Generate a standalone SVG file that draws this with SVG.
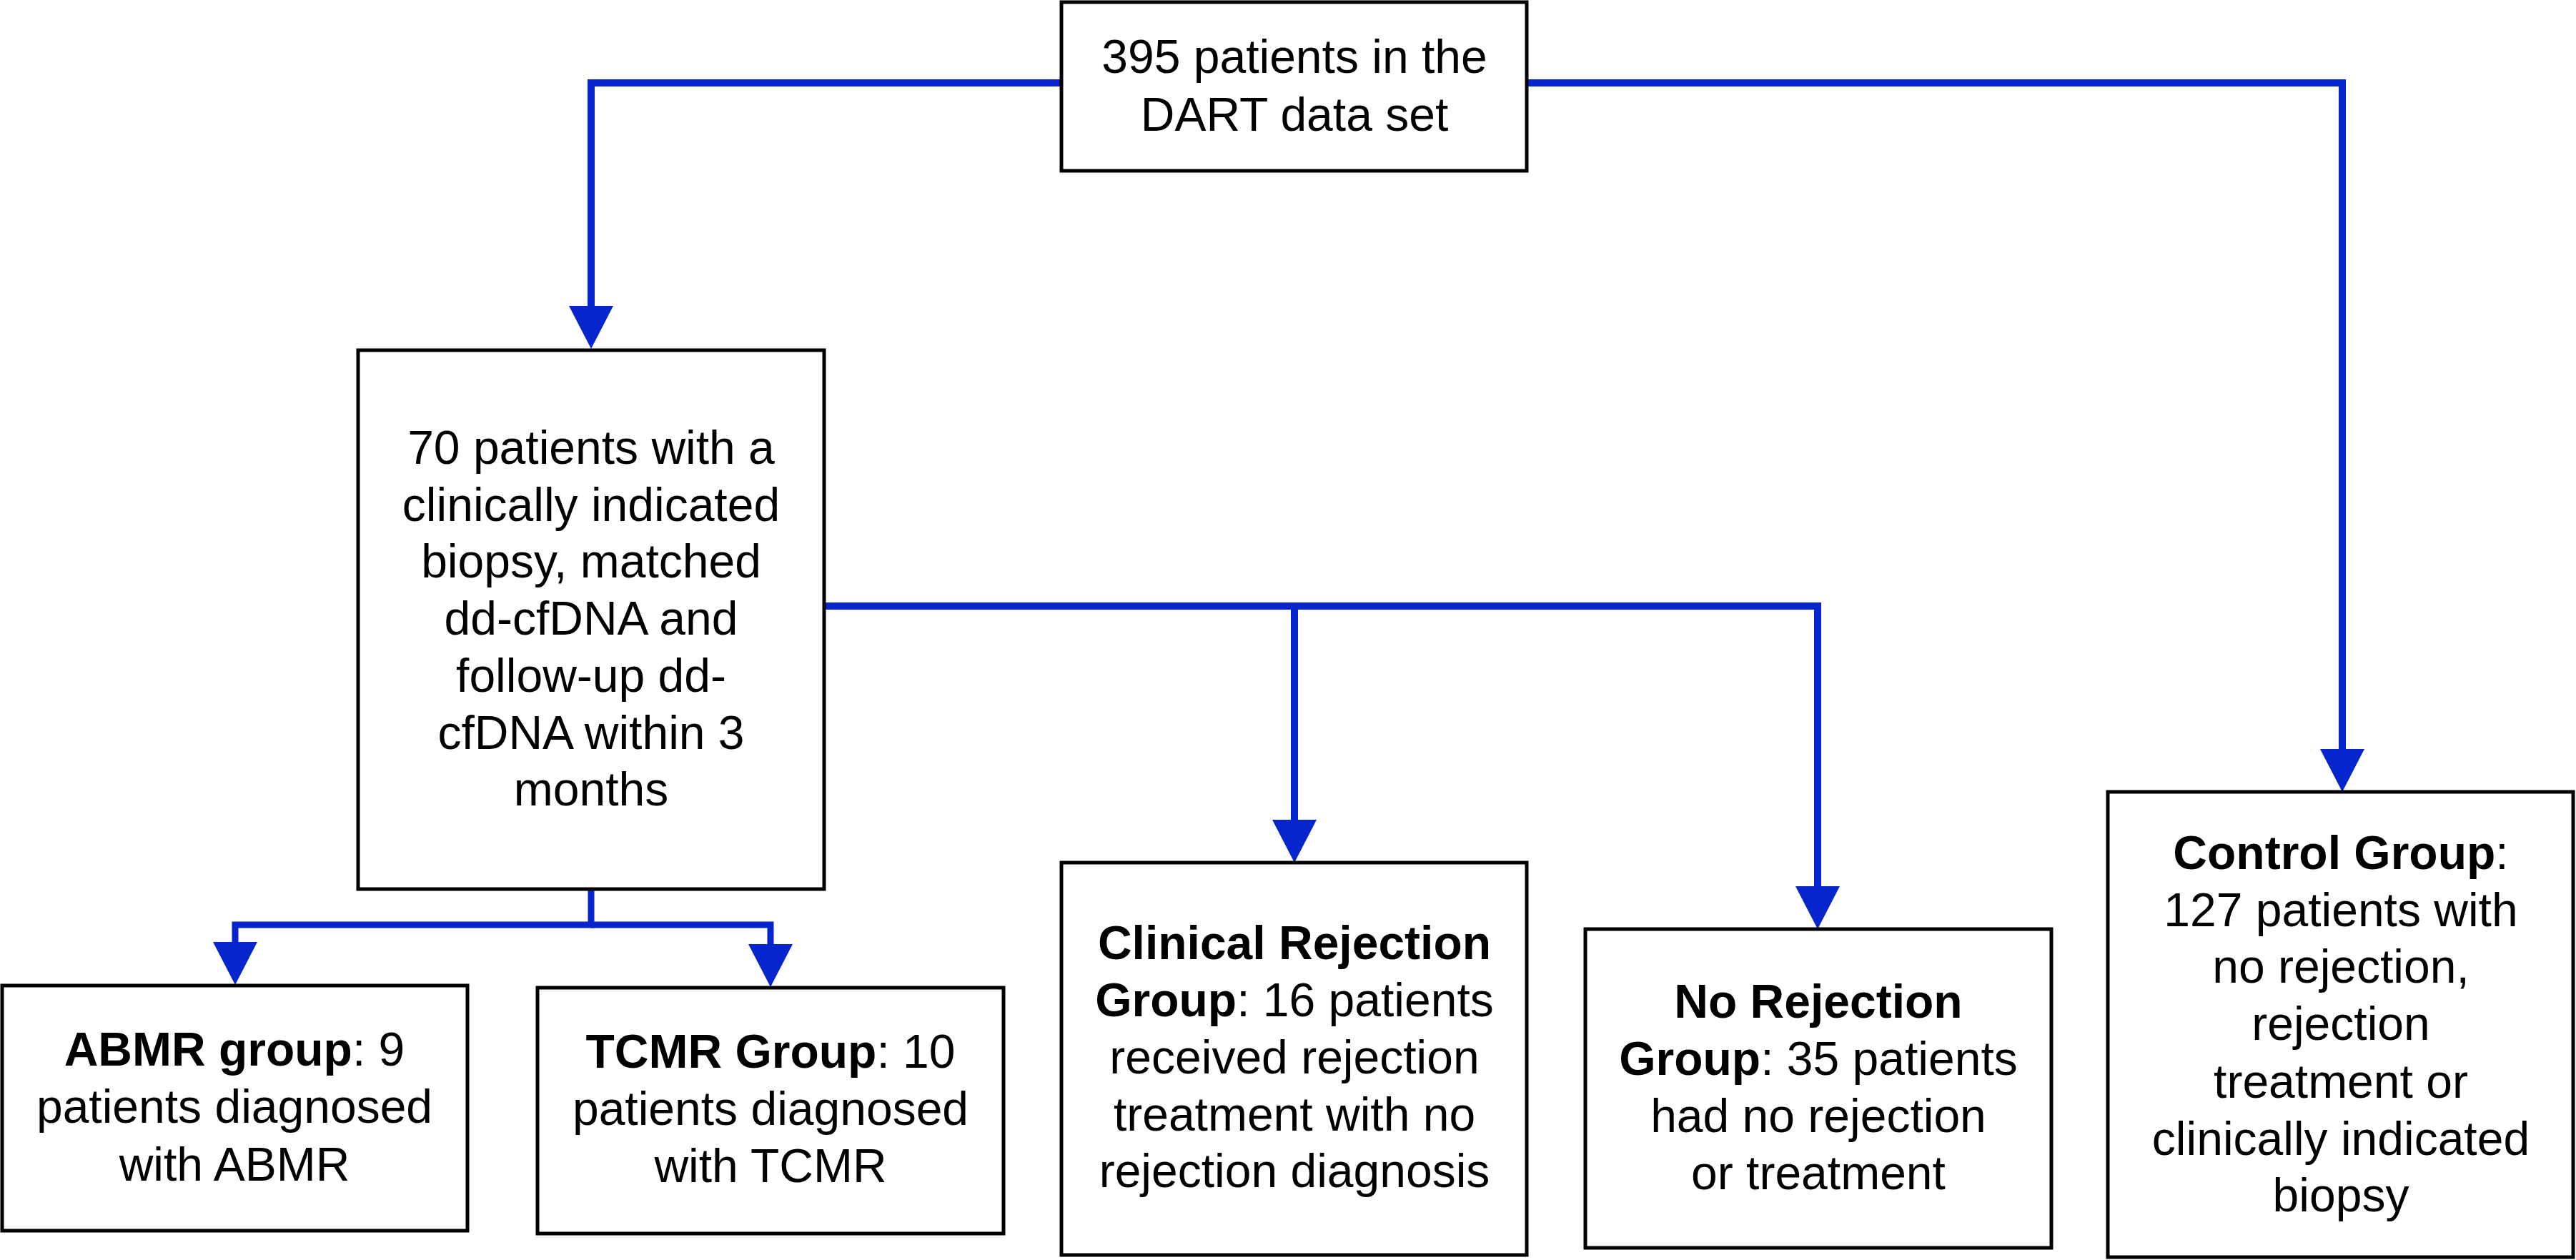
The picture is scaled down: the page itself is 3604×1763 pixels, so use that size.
<svg xmlns="http://www.w3.org/2000/svg" width="3604" height="1763" viewBox="0 0 3604 1763">
<style>
  .box { fill: #ffffff; stroke: #000000; stroke-width: 5; }
  .lbl { font-family: "Liberation Sans", Arial, Helvetica, sans-serif; font-size: 66px; fill: #000000; text-anchor: middle; }
  .b { font-weight: bold; }
  .conn { fill: none; stroke: #0625CC; stroke-width: 10; stroke-linejoin: miter; stroke-linecap: butt; }
</style>
<defs>
  <marker id="arrow" viewBox="0 0 60 62" refX="0" refY="31" markerWidth="60" markerHeight="62" markerUnits="userSpaceOnUse" orient="auto">
    <path d="M0,0 L60,31 L0,62 Z" fill="#0625CC"/>
  </marker>
</defs>
<rect width="3604" height="1763" fill="#ffffff"/>

<g id="connectors">
  <path class="conn" d="M1485,116 H827 V428" marker-end="url(#arrow)"/>
  <path class="conn" d="M2136,116 H3277 V1048" marker-end="url(#arrow)"/>
  <path class="conn" d="M1153,848 H2543 V1240" marker-end="url(#arrow)"/>
  <path class="conn" d="M1811,848 V1147" marker-end="url(#arrow)"/>
  <path class="conn" style="stroke-width:9" d="M827,1208 V1294 H329 V1318" marker-end="url(#arrow)"/>
  <path class="conn" style="stroke-width:9" d="M827,1294 H1078 V1321" marker-end="url(#arrow)"/>
</g>

<g id="node-dart">
  <rect class="box" x="1485" y="3" width="651" height="236"/>
  <text class="lbl" x="1811" y="102">395 patients in the</text>
  <text class="lbl" x="1811" y="183">DART data set</text>
</g>

<g id="node-70">
  <rect class="box" x="501" y="490" width="652" height="754"/>
  <text class="lbl" x="827" y="649">70 patients with a</text>
  <text class="lbl" x="827" y="729">clinically indicated</text>
  <text class="lbl" x="827" y="808">biopsy, matched</text>
  <text class="lbl" x="827" y="888">dd-cfDNA and</text>
  <text class="lbl" x="827" y="968">follow-up dd-</text>
  <text class="lbl" x="827" y="1048">cfDNA within 3</text>
  <text class="lbl" x="827" y="1127">months</text>
</g>

<g id="node-abmr">
  <rect class="box" x="3" y="1379" width="651" height="343"/>
  <text class="lbl" x="328" y="1491"><tspan class="b">ABMR group</tspan>: 9</text>
  <text class="lbl" x="328" y="1571">patients diagnosed</text>
  <text class="lbl" x="328" y="1652">with ABMR</text>
</g>

<g id="node-tcmr">
  <rect class="box" x="752" y="1382" width="652" height="344"/>
  <text class="lbl" x="1078" y="1494"><tspan class="b">TCMR Group</tspan>: 10</text>
  <text class="lbl" x="1078" y="1574">patients diagnosed</text>
  <text class="lbl" x="1078" y="1654">with TCMR</text>
</g>

<g id="node-clinical">
  <rect class="box" x="1485" y="1207" width="651" height="549"/>
  <text class="lbl b" x="1811" y="1342">Clinical Rejection</text>
  <text class="lbl" x="1811" y="1422"><tspan class="b">Group</tspan>: 16 patients</text>
  <text class="lbl" x="1811" y="1502">received rejection</text>
  <text class="lbl" x="1811" y="1582">treatment with no</text>
  <text class="lbl" x="1811" y="1661">rejection diagnosis</text>
</g>

<g id="node-norejection">
  <rect class="box" x="2218" y="1300" width="652" height="446"/>
  <text class="lbl b" x="2544" y="1424">No Rejection</text>
  <text class="lbl" x="2544" y="1504"><tspan class="b">Group</tspan>: 35 patients</text>
  <text class="lbl" x="2544" y="1584">had no rejection</text>
  <text class="lbl" x="2544" y="1664">or treatment</text>
</g>

<g id="node-control">
  <rect class="box" x="2949" y="1108" width="651" height="651"/>
  <text class="lbl" x="3275" y="1216"><tspan class="b">Control Group</tspan>:</text>
  <text class="lbl" x="3275" y="1296">127 patients with</text>
  <text class="lbl" x="3275" y="1375">no rejection,</text>
  <text class="lbl" x="3275" y="1455">rejection</text>
  <text class="lbl" x="3275" y="1536">treatment or</text>
  <text class="lbl" x="3275" y="1616">clinically indicated</text>
  <text class="lbl" x="3275" y="1695">biopsy</text>
</g>
</svg>
